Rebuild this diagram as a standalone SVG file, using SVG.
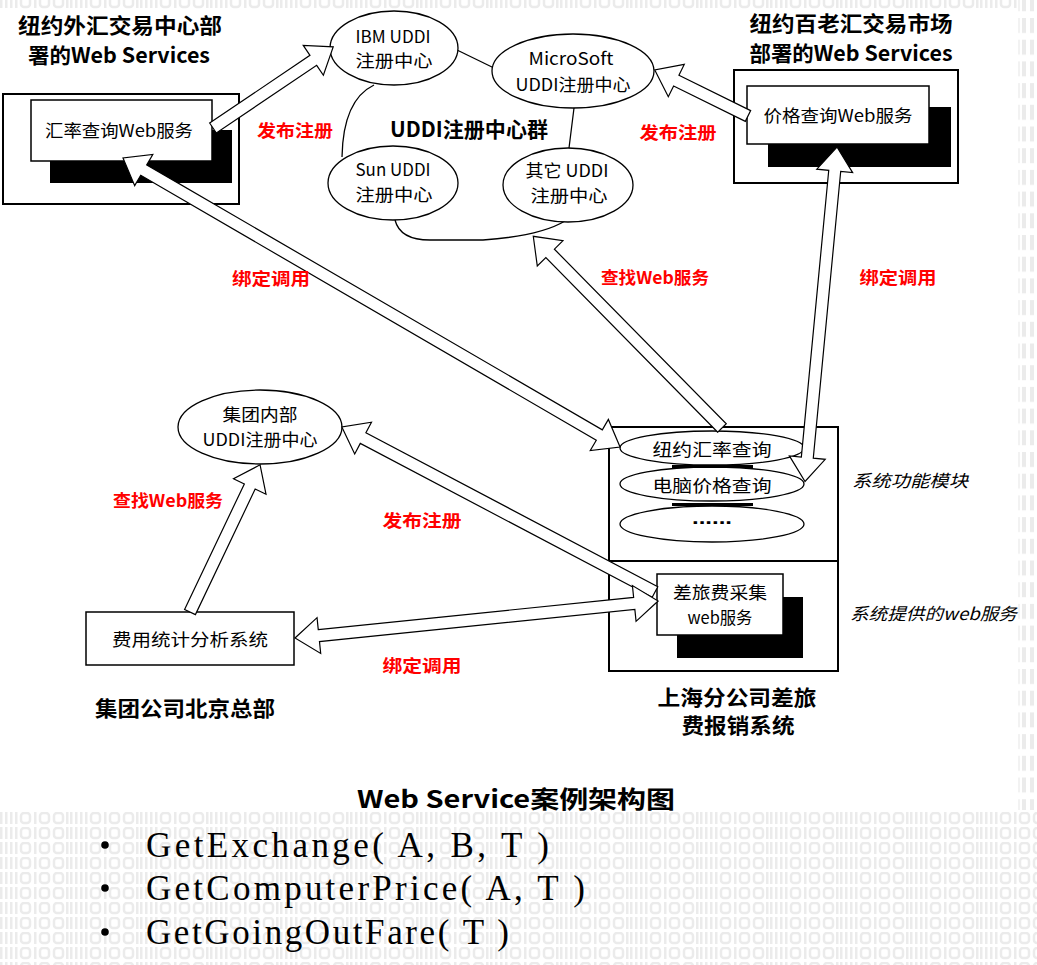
<svg xmlns="http://www.w3.org/2000/svg" width="1037" height="965" viewBox="0 0 1037 965">
<style>
.t{font-family:"Noto Sans CJK SC","Noto Sans",sans-serif;fill:#000;font-size:17px;dominant-baseline:central;text-anchor:middle}
.b{font-weight:bold;font-size:21px}
.red{fill:#ff0000;font-weight:bold;font-size:17px}
.it{font-style:italic;text-anchor:start}
.box{fill:#fff;stroke:#000;stroke-width:1.5}
.outer{fill:none;stroke:#000;stroke-width:2}
.shadow{fill:#000}
.ell{fill:#fff;stroke:#000;stroke-width:1.3}
.arr{fill:#fff;stroke:#000;stroke-width:1.2;stroke-linejoin:miter}
.ln{fill:none;stroke:#000;stroke-width:1.3}
.code{font-family:"Liberation Serif",serif;font-size:35px;fill:#000}
.bg{fill:#ebebeb}
</style>
<defs>
<pattern id="bin" x="0" y="812" width="70" height="15" patternUnits="userSpaceOnUse">
<rect class="bg" x="0" y="0" width="2.5" height="12"/>
<rect class="bg" x="5" y="0" width="2.5" height="12"/>
<rect class="bg" x="10" y="0" width="2.5" height="12"/>
<rect class="bg" x="15" y="0" width="2.5" height="12"/>
<rect x="21" y="1" width="9" height="10" rx="3" fill="none" stroke="#ebebeb" stroke-width="2.5"/>
<rect class="bg" x="34" y="0" width="2.5" height="12"/>
<rect x="40" y="1" width="9" height="10" rx="3" fill="none" stroke="#ebebeb" stroke-width="2.5"/>
<rect x="54" y="1" width="9" height="10" rx="3" fill="none" stroke="#ebebeb" stroke-width="2.5"/>
<rect class="bg" x="66" y="0" width="2.5" height="12"/>
</pattern>
<pattern id="bintop" x="0" y="-4" width="70" height="15" patternUnits="userSpaceOnUse">
<rect class="bg" x="0" y="0" width="2.5" height="12"/>
<rect class="bg" x="5" y="0" width="2.5" height="12"/>
<rect class="bg" x="10" y="0" width="2.5" height="12"/>
<rect class="bg" x="15" y="0" width="2.5" height="12"/>
<rect x="21" y="1" width="9" height="10" rx="3" fill="none" stroke="#ebebeb" stroke-width="2.5"/>
<rect class="bg" x="34" y="0" width="2.5" height="12"/>
<rect x="40" y="1" width="9" height="10" rx="3" fill="none" stroke="#ebebeb" stroke-width="2.5"/>
<rect x="54" y="1" width="9" height="10" rx="3" fill="none" stroke="#ebebeb" stroke-width="2.5"/>
<rect class="bg" x="66" y="0" width="2.5" height="12"/>
</pattern>
<pattern id="binr" x="1017" y="18" width="20" height="21.7" patternUnits="userSpaceOnUse">
<rect x="1" y="0" width="2" height="15" fill="#f2f2f2"/>
<rect class="bg" x="5" y="0" width="4" height="15"/>
<rect class="bg" x="13" y="0" width="4" height="15"/>
</pattern>
</defs>
<rect x="0" y="0" width="1037" height="965" fill="#fff"/>
<g id="background">
<rect x="0" y="0" width="1017" height="9" fill="url(#bintop)"/>
<rect x="1017" y="0" width="20" height="810" fill="url(#binr)"/>
<rect x="0" y="812" width="1037" height="153" fill="url(#bin)"/>
</g>

<g id="uddi-links">
<path class="ln" d="M457,50 L494,68"/>
<path class="ln" d="M374,85 Q343,100 342,157"/>
<path class="ln" d="M574,108 L569,148"/>
<path class="ln" d="M395,220 Q400,240 430,240 L483,240 Q540,236 565,221"/>
</g>

<g id="title-ny-forex">
<text class="t b" x="120" y="24" textLength="204" lengthAdjust="spacingAndGlyphs">纽约外汇交易中心部</text>
<text class="t b" x="119" y="54" textLength="182" lengthAdjust="spacingAndGlyphs">署的Web Services</text>
</g>
<g id="node-forex-service">
<rect class="outer" x="3" y="94" width="236" height="110"/>
<rect class="shadow" x="50" y="130" width="182" height="53"/>
<rect class="box" x="31" y="100" width="181" height="61"/>
<text class="t" x="119" y="129" textLength="148" lengthAdjust="spacingAndGlyphs">汇率查询Web服务</text>
</g>

<g id="title-ny-broadway">
<text class="t b" x="851" y="22" textLength="203" lengthAdjust="spacingAndGlyphs">纽约百老汇交易市场</text>
<text class="t b" x="851" y="52" textLength="203" lengthAdjust="spacingAndGlyphs">部署的Web Services</text>
</g>
<g id="node-price-service">
<rect class="outer" x="734" y="70" width="224" height="113"/>
<rect class="shadow" x="768" y="107" width="183" height="60"/>
<rect class="box" x="747" y="86" width="182" height="58"/>
<text class="t" x="838" y="114" textLength="149" lengthAdjust="spacingAndGlyphs">价格查询Web服务</text>
</g>

<g id="node-ibm">
<ellipse class="ell" cx="394" cy="48" rx="64" ry="37"/>
<text class="t" x="393" y="35" textLength="75" lengthAdjust="spacingAndGlyphs">IBM UDDI</text>
<text class="t" x="394" y="59" textLength="77" lengthAdjust="spacingAndGlyphs">注册中心</text>
</g>
<g id="node-microsoft">
<ellipse class="ell" cx="573" cy="71" rx="81" ry="37"/>
<text class="t" x="571" y="57" textLength="85" lengthAdjust="spacingAndGlyphs">MicroSoft</text>
<text class="t" x="573" y="83" textLength="115" lengthAdjust="spacingAndGlyphs">UDDI注册中心</text>
</g>
<g id="node-sun">
<ellipse class="ell" cx="393" cy="183" rx="65" ry="37"/>
<text class="t" x="393" y="168" textLength="75" lengthAdjust="spacingAndGlyphs">Sun UDDI</text>
<text class="t" x="394" y="193" textLength="77" lengthAdjust="spacingAndGlyphs">注册中心</text>
</g>
<g id="node-other">
<ellipse class="ell" cx="568" cy="185" rx="65" ry="37"/>
<text class="t" x="567" y="169" textLength="83" lengthAdjust="spacingAndGlyphs">其它 UDDI</text>
<text class="t" x="569" y="194" textLength="77" lengthAdjust="spacingAndGlyphs">注册中心</text>
</g>
<g id="label-uddi-group">
<text class="t b" x="469" y="128" font-size="20" textLength="158" lengthAdjust="spacingAndGlyphs">UDDI注册中心群</text>
</g>

<g id="node-group-uddi">
<ellipse class="ell" cx="260" cy="427" rx="82" ry="37"/>
<text class="t" x="260" y="413" textLength="75" lengthAdjust="spacingAndGlyphs">集团内部</text>
<text class="t" x="260" y="438" textLength="115" lengthAdjust="spacingAndGlyphs">UDDI注册中心</text>
</g>
<g id="node-cost-stats">
<rect class="box" x="86" y="612" width="208" height="53"/>
<text class="t" x="190" y="638" textLength="156" lengthAdjust="spacingAndGlyphs">费用统计分析系统</text>
<text class="t b" x="185" y="707" textLength="180" lengthAdjust="spacingAndGlyphs">集团公司北京总部</text>
</g>

<g id="node-shanghai">
<rect class="outer" x="609" y="427" width="229" height="244"/>
<line class="outer" x1="609" y1="561" x2="838" y2="561"/>
<ellipse class="ell" cx="712" cy="448" rx="92" ry="17"/>
<ellipse class="ell" cx="712" cy="484" rx="92" ry="17"/>
<ellipse class="ell" cx="712" cy="524" rx="92" ry="18"/>
<rect class="shadow" x="672" y="465" width="81" height="3"/>
<rect class="shadow" x="672" y="503" width="81" height="3"/>
<text class="t" x="712" y="448" textLength="119" lengthAdjust="spacingAndGlyphs">纽约汇率查询</text>
<text class="t" x="712" y="484" textLength="119" lengthAdjust="spacingAndGlyphs">电脑价格查询</text>
<text x="712" y="524" font-family="Liberation Sans, sans-serif" font-weight="bold" font-size="18" text-anchor="middle" textLength="40" lengthAdjust="spacingAndGlyphs">......</text>
<rect class="shadow" x="677" y="597" width="126" height="61"/>
<rect class="box" x="657" y="574" width="126" height="61"/>
<text class="t" x="720" y="591" textLength="94" lengthAdjust="spacingAndGlyphs">差旅费采集</text>
<text class="t" x="720" y="616" textLength="65" lengthAdjust="spacingAndGlyphs">web服务</text>
<text class="t it" x="852" y="479" textLength="116" lengthAdjust="spacingAndGlyphs">系统功能模块</text>
<text class="t it" x="850" y="612" textLength="167" lengthAdjust="spacingAndGlyphs">系统提供的web服务</text>
<text class="t b" x="737" y="696" font-size="20" textLength="159" lengthAdjust="spacingAndGlyphs">上海分公司差旅</text>
<text class="t b" x="738" y="724" font-size="20" textLength="113" lengthAdjust="spacingAndGlyphs">费报销系统</text>
</g>

<g id="connectors">
<polygon class="arr" transform="translate(213,128) rotate(-34.0)" points="0,-6 121,-6 121,-18 145,0 121,18 121,6 0,6"/>
<polygon class="arr" transform="translate(748,116) rotate(-153.7)" points="0,-6 80,-6 80,-18 104,0 80,18 80,6 0,6"/>
<polygon class="arr" transform="translate(123,158) rotate(30.18)" points="24,-6 551,-6 551,-18 575,0 551,18 551,6 24,6 24,18 0,0 24,-18"/>
<polygon class="arr" transform="translate(722,428) rotate(-134.55)" points="0,-6 245,-6 245,-18 269,0 245,18 245,6 0,6"/>
<polygon class="arr" transform="translate(837,147) rotate(95.46)" points="24,-6 312,-6 312,-18 336,0 312,18 312,6 24,6 24,18 0,0 24,-18"/>
<polygon class="arr" transform="translate(190,612) rotate(-64.54)" points="0,-6 139,-6 139,-18 163,0 139,18 139,6 0,6"/>
<polygon class="arr" transform="translate(655,592) rotate(-152.2)" points="0,-6 330,-6 330,-18 354,0 330,18 330,6 0,6"/>
<polygon class="arr" transform="translate(295,638) rotate(-5.82)" points="24,-6 341,-6 341,-18 365,0 341,18 341,6 24,6 24,18 0,0 24,-18"/>
</g>

<g id="connector-labels">
<text class="t red" x="295" y="129" textLength="76" lengthAdjust="spacingAndGlyphs">发布注册</text>
<text class="t red" x="678" y="131" textLength="77" lengthAdjust="spacingAndGlyphs">发布注册</text>
<text class="t red" x="271" y="277" textLength="78" lengthAdjust="spacingAndGlyphs">绑定调用</text>
<text class="t red" x="655" y="276" textLength="108" lengthAdjust="spacingAndGlyphs">查找Web服务</text>
<text class="t red" x="898" y="276" textLength="77" lengthAdjust="spacingAndGlyphs">绑定调用</text>
<text class="t red" x="168" y="499" textLength="110" lengthAdjust="spacingAndGlyphs">查找Web服务</text>
<text class="t red" x="422" y="519" textLength="79" lengthAdjust="spacingAndGlyphs">发布注册</text>
<text class="t red" x="422" y="664" textLength="79" lengthAdjust="spacingAndGlyphs">绑定调用</text>
</g>

<g id="caption">
<text x="516" y="808" font-family="Noto Sans CJK SC, sans-serif" font-weight="bold" font-size="24" text-anchor="middle" textLength="318" lengthAdjust="spacingAndGlyphs">Web Service案例架构图</text>
<circle cx="105" cy="845" r="3.8" fill="#000"/>
<circle cx="105" cy="888" r="3.8" fill="#000"/>
<circle cx="105" cy="932" r="3.8" fill="#000"/>
<text class="code" x="146" y="857" textLength="403" lengthAdjust="spacing">GetExchange( A, B, T )</text>
<text class="code" x="146" y="900" textLength="439" lengthAdjust="spacing">GetComputerPrice( A, T )</text>
<text class="code" x="146" y="944" textLength="363" lengthAdjust="spacing">GetGoingOutFare( T )</text>
</g>
</svg>
